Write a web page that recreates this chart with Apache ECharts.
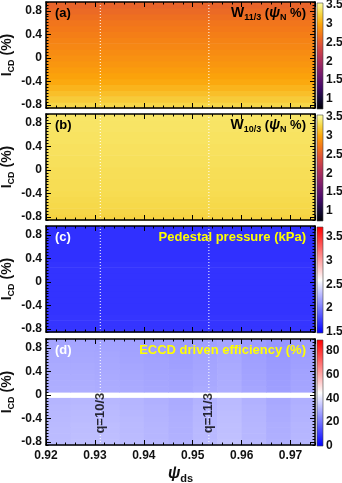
<!DOCTYPE html>
<html>
<head>
<meta charset="utf-8">
<script src="https://cdn.jsdelivr.net/npm/echarts@6/dist/echarts.min.js"></script>
<style>
  html, body { margin: 0; padding: 0; background: #fff; }
  #chart { width: 342px; height: 483px; }
</style>
</head>
<body>
<div id="chart"></div>
<script>
// scan extent
const psiRange = [0.92, 0.975]
const currentRange = [-0.85, 0.95]
const currents = [-0.8, -0.7, -0.6, -0.5, -0.4, -0.3, -0.2, -0.1, 0, 0.1, 0.2, 0.3, 0.4, 0.5, 0.6, 0.7, 0.8, 0.9]
const psiCols = [0.9225, 0.9275, 0.9325, 0.9375, 0.9425, 0.9475, 0.9525, 0.9575, 0.9625, 0.9675, 0.9725]

// rational surfaces
const qSurfaces = [0.9311, 0.9533]
const qNames = ['q=10/3', 'q=11/3']
const qLabelCurrent = -0.31

// (a) island width W_11/3, one value per current row (flat along psi)
const w113 = [3.27, 3.20, 3.13, 3.07, 3.01, 2.97, 2.93, 2.89, 2.86, 2.83, 2.80, 2.77, 2.74, 2.71, 2.68, 2.64, 2.60, 2.56]
// (b) island width W_10/3
const w103 = [3.25, 3.27, 3.28, 3.29, 3.30, 3.31, 3.31, 3.32, 3.32, 3.33, 3.33, 3.34, 3.34, 3.35, 3.35, 3.36, 3.36, 3.37]
// (c) pedestal pressure (kPa)
const pedPressure = [1.71, 1.71, 1.71, 1.70, 1.70, 1.70, 1.70, 1.70, 1.70, 1.70, 1.70, 1.70, 1.69, 1.69, 1.69, 1.69, 1.69, 1.69]
// (d) ECCD driven efficiency (%), rows = currents, cols = psiCols, null = no data at I_CD = 0
const eccdEff = [
  [32.8, 33.2, 33.2, 32.7, 31.9, 31.0, 32.4, 33.6, 32.1, 30.6, 31.8],
  [32.7, 33.1, 33.1, 32.6, 31.8, 30.9, 32.3, 33.5, 32.0, 30.5, 31.7],
  [32.6, 33.0, 33.0, 32.5, 31.7, 30.8, 32.2, 33.4, 31.9, 30.4, 31.6],
  [32.5, 32.9, 32.9, 32.4, 31.6, 30.7, 32.1, 33.3, 31.8, 30.3, 31.5],
  [32.3, 32.7, 32.7, 32.2, 31.4, 30.5, 31.9, 33.1, 31.6, 30.1, 31.3],
  [32.1, 32.5, 32.5, 32.0, 31.2, 30.3, 31.7, 32.9, 31.4, 29.9, 31.1],
  [31.9, 32.3, 32.3, 31.8, 31.0, 30.1, 31.5, 32.7, 31.2, 29.7, 30.9],
  [31.6, 32.0, 32.0, 31.5, 30.7, 29.8, 31.2, 32.4, 30.9, 29.4, 30.6],
  null,
  [30.4, 30.4, 30.1, 29.7, 29.2, 28.8, 29.6, 30.4, 28.9, 27.8, 28.8],
  [30.2, 30.2, 29.9, 29.5, 29.0, 28.6, 29.4, 30.2, 28.7, 27.6, 28.6],
  [30.0, 30.0, 29.7, 29.3, 28.8, 28.4, 29.2, 30.0, 28.5, 27.4, 28.4],
  [29.8, 29.8, 29.5, 29.1, 28.6, 28.2, 29.0, 29.8, 28.3, 27.2, 28.2],
  [29.6, 29.6, 29.3, 28.9, 28.4, 28.0, 28.8, 29.6, 28.1, 27.0, 28.0],
  [29.4, 29.4, 29.1, 28.7, 28.2, 27.8, 28.6, 29.4, 27.9, 26.8, 27.8],
  [29.2, 29.2, 28.9, 28.5, 28.0, 27.6, 28.4, 29.2, 27.7, 26.6, 27.6],
  [29.0, 29.0, 28.7, 28.3, 27.8, 27.4, 28.2, 29.0, 27.5, 26.4, 27.4],
  [28.8, 28.8, 28.5, 28.1, 27.6, 27.2, 28.0, 28.8, 27.3, 26.2, 27.2]
]

// tick labels
const psiTicks = 0.01
const currentLabels = [-0.8, -0.4, 0, 0.4, 0.8]
const cbLabelsW = [1, 1.5, 2, 2.5, 3, 3.5]
const cbLabelsP = [1.5, 2, 2.5, 3, 3.5]
const cbLabelsE = [0, 20, 40, 60, 80]

const FONT = '"Liberation Sans", Arial, sans-serif'
const inferno = ['#000004', '#160b39', '#420a68', '#6a176e', '#932667', '#bc3754', '#dd513a', '#f37819', '#fca50a', '#f6d746', '#fcffa4']
const blueWhiteRed = ['#0000ff', '#ffffff', '#ff0000']

const dPsi = 0.0025
const dCur = 0.05

function rowCells(rows) {
  return rows.map((v, i) => [psiRange[0], psiRange[1], currents[i] - dCur, currents[i] + dCur, v])
}
function gridCells(matrix) {
  const out = []
  matrix.forEach((row, i) => {
    if (!row) return
    row.forEach((v, j) => out.push([psiCols[j] - dPsi, psiCols[j] + dPsi, currents[i] - dCur, currents[i] + dCur, v]))
  })
  return out
}

const subRich = {
  t: { fontFamily: FONT, fontWeight: 'bold', fontSize: 13, lineHeight: 18 },
  w: { fontFamily: FONT, fontWeight: 'bold', fontSize: 14, lineHeight: 18 },
  i: { fontFamily: FONT, fontWeight: 'bold', fontSize: 14, lineHeight: 18 },
  p: { fontFamily: FONT, fontWeight: 'bold', fontStyle: 'italic', fontSize: 14, lineHeight: 18 },
  s: { fontFamily: FONT, fontWeight: 'bold', fontSize: 9, lineHeight: 10, verticalAlign: 'bottom' }
}
function richIn(color) {
  return Object.fromEntries(Object.entries(subRich).map(([key, s]) => [key, { ...s, fill: color }]))
}

const panels = [
  { top: 2, data: rowCells(w113), range: [0.73, 3.55], colors: inferno, cb: cbLabelsW,
    tag: '(a)', tagColor: '#000', title: '{w|W}{s|11/3}{t| (}{p|ψ}{s|N}{t| %)}', titleColor: '#000' },
  { top: 114, data: rowCells(w103), range: [0.73, 3.55], colors: inferno, cb: cbLabelsW,
    tag: '(b)', tagColor: '#000', title: '{w|W}{s|10/3}{t| (}{p|ψ}{s|N}{t| %)}', titleColor: '#000' },
  { top: 226, data: rowCells(pedPressure), range: [1.48, 3.7], colors: blueWhiteRed, cb: cbLabelsP,
    tag: '(c)', tagColor: '#fff', title: '{t|Pedestal pressure (kPa)}', titleColor: '#ffff00' },
  { top: 339, data: gridCells(eccdEff), range: [0, 89], colors: blueWhiteRed, cb: cbLabelsE,
    tag: '(d)', tagColor: '#fff', title: '{t|ECCD driven efficiency (%)}', titleColor: '#ffff00' }
]

const H = 106
const grids = [], xAxes = [], yAxes = [], series = [], visualMaps = [], graphics = []
const frame = { show: true, onZero: false, lineStyle: { color: '#000', width: 1.5 } }
const noLine = { show: false, onZero: false }
const tickLabel = { fontFamily: FONT, fontWeight: 'bold', fontSize: 12, color: '#111' }

function renderCell(params, api) {
  const a = api.coord([api.value(0), api.value(3)])
  const b = api.coord([api.value(1), api.value(2)])
  return {
    type: 'rect',
    shape: { x: a[0], y: a[1], width: b[0] - a[0] + 0.6, height: b[1] - a[1] + 0.6 },
    style: { fill: api.visual('color') }
  }
}

panels.forEach((p, k) => {
  const last = k === panels.length - 1
  const g = grids.length
  grids.push({ left: 46, right: 27, top: p.top, height: H, outerBoundsMode: 'none' })
  const xb = { type: 'value', gridIndex: g, min: psiRange[0], max: psiRange[1], z: 5, splitLine: { show: false } }
  const yb = { type: 'value', gridIndex: g, min: currentRange[0], max: currentRange[1], z: 5, splitLine: { show: false } }
  const majTick = { inside: true, length: 5, lineStyle: { color: '#000', width: 1 } }
  const minTick = { inside: true, length: 2.5, lineStyle: { color: '#000', width: 1 } }

  const xi = xAxes.length
  xAxes.push({ ...xb, position: 'bottom', interval: psiTicks, axisLine: frame, axisTick: majTick,
    axisLabel: { show: last, showMaxLabel: false, margin: 5, ...tickLabel, formatter: v => v.toFixed(2) },
    name: last ? '{p|ψ}{s|ds}' : '', nameLocation: 'middle', nameGap: 19,
    nameTextStyle: { rich: {
      p: { fontFamily: FONT, fontWeight: 'bold', fontStyle: 'italic', fontSize: 16, lineHeight: 20, color: '#111' },
      s: { fontFamily: FONT, fontWeight: 'bold', fontSize: 11, lineHeight: 12, verticalAlign: 'bottom', color: '#111' } } } })
  xAxes.push({ ...xb, position: 'bottom', interval: 0.002, axisLine: noLine, axisTick: minTick, axisLabel: { show: false } })
  xAxes.push({ ...xb, position: 'top', interval: psiTicks, axisLine: frame, axisTick: majTick, axisLabel: { show: false } })
  xAxes.push({ ...xb, position: 'top', interval: 0.002, axisLine: noLine, axisTick: minTick, axisLabel: { show: false } })

  const yi = yAxes.length
  yAxes.push({ ...yb, position: 'left', axisLine: frame,
    axisTick: { ...majTick, customValues: currentLabels },
    axisLabel: { customValues: currentLabels, margin: 4, ...tickLabel } })
  yAxes.push({ ...yb, position: 'left', interval: 0.05, axisLine: noLine, axisTick: minTick, axisLabel: { show: false } })
  yAxes.push({ ...yb, position: 'right', axisLine: frame, axisTick: { ...majTick, customValues: currentLabels }, axisLabel: { show: false } })
  yAxes.push({ ...yb, position: 'right', interval: 0.05, axisLine: noLine, axisTick: minTick, axisLabel: { show: false } })

  // heat map cells
  const si = series.length
  series.push({ type: 'custom', xAxisIndex: xi, yAxisIndex: yi, data: p.data, renderItem: renderCell,
    encode: { x: [0, 1], y: [2, 3] }, z: 1, silent: true })
  visualMaps.push({ type: 'continuous', show: false, seriesIndex: si, dimension: 4,
    min: p.range[0], max: p.range[1], inRange: { color: p.colors } })

  // rational surface lines
  qSurfaces.forEach(q => {
    series.push({ type: 'line', xAxisIndex: xi, yAxisIndex: yi, data: [[q, currentRange[0]], [q, currentRange[1]]],
      symbol: 'none', silent: true, z: 3, lineStyle: { color: '#fff', width: 1, type: [1, 2] } })
  })
  if (last) {
    series.push({ type: 'scatter', xAxisIndex: xi, yAxisIndex: yi, symbolSize: 0, silent: true, z: 4,
      data: qSurfaces.map((q, i) => ({ value: [q, qLabelCurrent], name: qNames[i] })),
      label: { show: true, position: 'inside', rotate: 90, formatter: d => d.name, ...tickLabel, fontSize: 13, color: '#000' } })
  }

  // colour bar
  const cg = grids.length
  grids.push({ left: 317, width: 6, top: p.top + 1, height: H, outerBoundsMode: 'none' })
  const cx = xAxes.length
  xAxes.push({ type: 'value', gridIndex: cg, min: 0, max: 1, show: false })
  const cy = yAxes.length
  yAxes.push({ type: 'value', gridIndex: cg, min: p.range[0], max: p.range[1], position: 'right',
    axisLine: noLine, axisTick: { show: false }, splitLine: { show: false },
    axisLabel: { customValues: p.cb, margin: 3, ...tickLabel } })
  const stops = p.colors.map((c, i) => ({ offset: 1 - i / (p.colors.length - 1), color: c })).reverse()
  series.push({ type: 'custom', xAxisIndex: cx, yAxisIndex: cy, data: [[0]], silent: true,
    renderItem: (params, api) => {
      const a = api.coord([0, p.range[1]])
      const b = api.coord([1, p.range[0]])
      return { type: 'rect', shape: { x: a[0], y: a[1], width: b[0] - a[0], height: b[1] - a[1] },
        style: { fill: { type: 'linear', x: 0, y: 0, x2: 0, y2: 1, colorStops: stops }, stroke: '#444', lineWidth: 0.6 } }
    } })

  // axis title, panel tag and title
  graphics.push({ type: 'text', x: 7, y: p.top + H / 2, rotation: Math.PI / 2, z: 10,
    style: { text: '{i|I}{s|CD}{i| (%)}', fill: '#111', align: 'center', verticalAlign: 'middle', rich: richIn('#111') } })
  graphics.push({ type: 'text', x: 55, y: p.top + 11, z: 10,
    style: { text: p.tag, fill: p.tagColor, font: `bold 13px ${FONT}`, verticalAlign: 'middle' } })
  graphics.push({ type: 'text', x: 306, y: p.top + 11, z: 10,
    style: { text: p.title, fill: p.titleColor, align: 'right', verticalAlign: 'middle', rich: richIn(p.titleColor) } })
})

const chart = echarts.init(document.getElementById('chart'))
chart.setOption({
  animation: false,
  grid: grids,
  xAxis: xAxes,
  yAxis: yAxes,
  visualMap: visualMaps,
  series,
  graphic: graphics
})
</script>
</body>
</html>
